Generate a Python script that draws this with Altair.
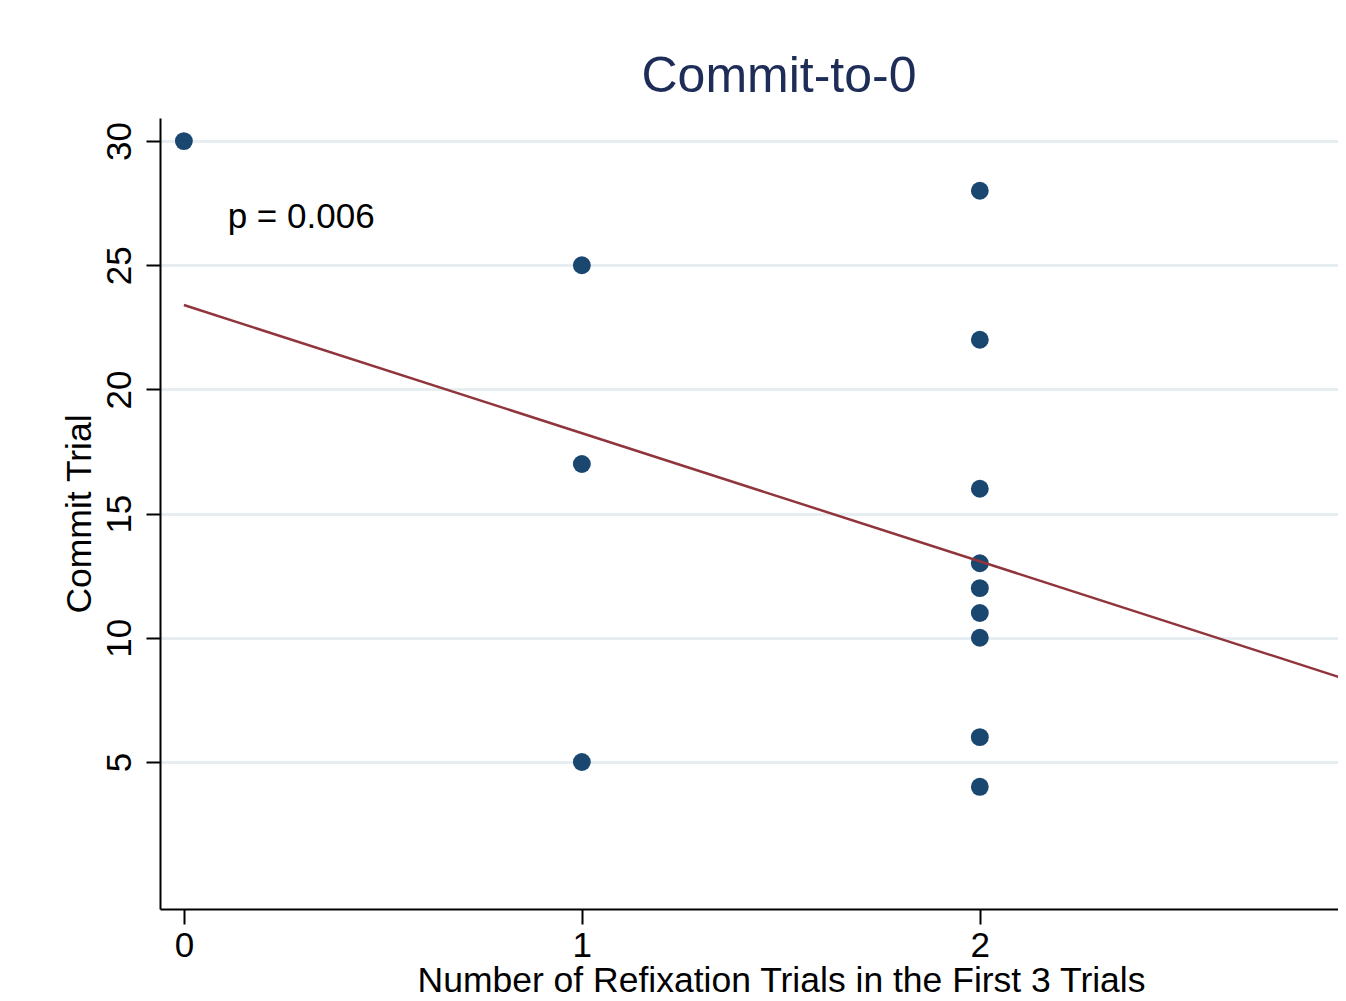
import altair as alt
import pandas as pd

# Data
x_vals = [0, 1, 1, 1, 2, 2, 2, 2, 2, 2, 2, 2, 2]
y_vals = [30, 25, 17, 5, 28, 22, 16, 13, 12, 11, 10, 6, 4]
fit_x = [0, 2.92]
fit_y = [23.4, 8.33]
x_ticks = [0, 1, 2]
y_ticks = [5, 10, 15, 20, 25, 30]
annot_text = ["p = 0.006"]
annot_x = [0.11]
annot_y = [26.5]

FONT = "Liberation Sans"
x_dom = [-0.06, 2.9]
y_dom = [-0.92, 30.93]

pts = pd.DataFrame({"x": x_vals, "y": y_vals})
fit = pd.DataFrame({"x": fit_x, "y": fit_y})
ann = pd.DataFrame({"x": annot_x, "y": annot_y, "t": annot_text})

xs = alt.Scale(domain=x_dom, nice=False, zero=False)
ys = alt.Scale(domain=y_dom, nice=False, zero=False)

x_axis = alt.Axis(
    title="Number of Refixation Trials in the First 3 Trials",
    values=x_ticks, format="d", grid=False,
    domainColor="black", domainWidth=2, tickColor="black", tickWidth=2,
    tickSize=15, labelFont=FONT, labelFontSize=35, labelColor="black",
    labelPadding=4, titleFont=FONT, titleFontSize=35.5, titleFontWeight="normal",
    titleColor="black", titleX=621, titleY=82, titleBaseline="alphabetic",
    titleAlign="center",
)
y_axis = alt.Axis(
    title="Commit Trial",
    values=y_ticks, format="d", grid=True, gridColor="#e6eef1", gridWidth=3,
    domainColor="black", domainWidth=2, tickColor="black", tickWidth=2,
    tickSize=14, labelFont=FONT, labelFontSize=35, labelColor="black",
    labelAngle=270, labelAlign="center", labelBaseline="bottom", labelPadding=9,
    titleFont=FONT, titleFontSize=35.5, titleFontWeight="normal", titleColor="black",
    titleAngle=270, titleX=-70, titleY=395.5, titleBaseline="alphabetic",
    titleAlign="center",
)

points = alt.Chart(pts).mark_circle(size=320, color="#1a476f", opacity=1).encode(
    x=alt.X("x:Q", scale=xs, axis=x_axis),
    y=alt.Y("y:Q", scale=ys, axis=y_axis),
)
line = alt.Chart(fit).mark_line(color="#90353b", strokeWidth=2.5, clip=True).encode(
    x=alt.X("x:Q", scale=xs),
    y=alt.Y("y:Q", scale=ys),
)
text = alt.Chart(ann).mark_text(
    font=FONT, fontSize=35, color="black", align="left", baseline="alphabetic"
).encode(
    x=alt.X("x:Q", scale=xs),
    y=alt.Y("y:Q", scale=ys),
    text="t:N",
)

chart = alt.layer(points, line, text).properties(
    width=1178,
    height=791,
    background="white",
    autosize=alt.AutoSizeParams(type="none"),
    padding={"left": 152, "top": 110, "right": 0, "bottom": 84},
    title=alt.TitleParams(
        "Commit-to-0", font=FONT, fontSize=50, fontWeight="normal",
        color="#1e2d57", anchor="middle", frame="group", dx=30, dy=47,
        baseline="alphabetic", offset=23,
    ),
).configure_view(strokeWidth=0, strokeOpacity=0)

chart.save("out.html", embed_options={"renderer": "svg", "actions": False})
